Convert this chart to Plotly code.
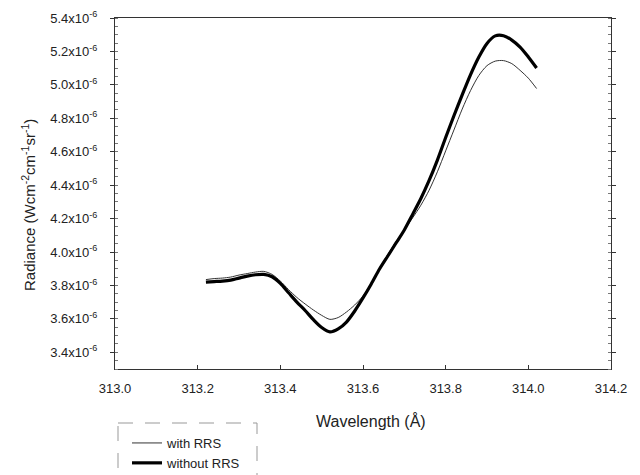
import plotly.graph_objects as go

# Wavelength grid (Å)
wavelength = [313.22, 313.24, 313.26, 313.28, 313.30, 313.32, 313.34, 313.36, 313.38, 313.40,
              313.42, 313.44, 313.46, 313.48, 313.50, 313.52, 313.54, 313.56, 313.58, 313.60,
              313.62, 313.64, 313.66, 313.68, 313.70, 313.72, 313.74, 313.76, 313.78, 313.80,
              313.82, 313.84, 313.86, 313.88, 313.90, 313.92, 313.94, 313.96, 313.98, 314.00,
              314.02]

# Radiance in units of 1e-6 W cm^-2 cm^-1 sr^-1
with_rrs = [3.835, 3.841, 3.844, 3.850, 3.862, 3.871, 3.880, 3.884, 3.866, 3.826,
            3.775, 3.728, 3.689, 3.653, 3.621, 3.597, 3.608, 3.641, 3.683, 3.737,
            3.814, 3.903, 3.985, 4.062, 4.132, 4.204, 4.280, 4.370, 4.480, 4.605,
            4.730, 4.855, 4.965, 5.055, 5.115, 5.142, 5.145, 5.127, 5.087, 5.040,
            4.978]

without_rrs = [3.820, 3.823, 3.826, 3.832, 3.844, 3.856, 3.864, 3.866, 3.852, 3.812,
               3.756, 3.700, 3.650, 3.595, 3.548, 3.522, 3.540, 3.581, 3.647, 3.725,
               3.809, 3.898, 3.976, 4.054, 4.132, 4.225, 4.320, 4.428, 4.550, 4.685,
               4.815, 4.940, 5.060, 5.165, 5.248, 5.293, 5.294, 5.268, 5.226, 5.167,
               5.101]

x_ticks = [313.0, 313.2, 313.4, 313.6, 313.8, 314.0, 314.2]
y_ticks = [3.4, 3.6, 3.8, 4.0, 4.2, 4.4, 4.6, 4.8, 5.0, 5.2, 5.4]
y_ticktext = [f"{v:.1f}x10<sup>-6</sup>" for v in y_ticks]

scale = 1e-6
FONT = "Liberation Sans, Arial, sans-serif"
INK = "#222222"

W, H = 640, 475
ML, MR, MT, MB = 115, 29, 18, 106
PW, PH = W - ML - MR, H - MT - MB


def px_x(px):
    return (px - ML) / PW


def px_y(py):
    return (H - MB - py) / PH


fig = go.Figure()
fig.add_trace(go.Scatter(
    x=wavelength, y=[v * scale for v in with_rrs], mode="lines",
    name="with RRS", line=dict(color="#333333", width=1, shape="spline", smoothing=0.8)))
fig.add_trace(go.Scatter(
    x=wavelength, y=[v * scale for v in without_rrs], mode="lines",
    name="without RRS", line=dict(color="#000000", width=3.2, shape="spline", smoothing=0.8)))

fig.update_layout(
    width=W, height=H,
    margin=dict(l=ML, r=MR, t=MT, b=MB, autoexpand=False),
    paper_bgcolor="white", plot_bgcolor="white",
    font=dict(family=FONT, color=INK, size=13),
    showlegend=True,
    legend=dict(
        x=px_x(127), y=px_y(428), xanchor="left", yanchor="top",
        bgcolor="rgba(0,0,0,0)", borderwidth=0,
        font=dict(family=FONT, size=13, color=INK),
        tracegroupgap=0, itemwidth=30,
    ),
    xaxis=dict(
        range=[313.0, 314.2], tickmode="array", tickvals=x_ticks,
        ticktext=[f"{v:.1f}" for v in x_ticks],
        showgrid=False, zeroline=False,
        showline=True, linecolor="#333333", linewidth=1, mirror=True,
        ticks="inside", ticklen=4, tickcolor="#333333",
        tickfont=dict(family=FONT, size=13, color=INK),
        ticklabelstandoff=7, automargin=False,
    ),
    yaxis=dict(
        range=[3.3 * scale, 5.4 * scale], tickmode="array",
        tickvals=[v * scale for v in y_ticks], ticktext=y_ticktext,
        showgrid=False, zeroline=False,
        showline=True, linecolor="#333333", linewidth=1, mirror="ticks",
        ticks="outside", ticklen=4, tickcolor="#333333",
        tickfont=dict(family=FONT, size=13, color=INK),
        ticklabelstandoff=10, automargin=False,
        minor=dict(tickmode="linear", tick0=3.4 * scale, dtick=0.05 * scale,
                   ticks="inside", ticklen=3, tickcolor="#777777", showgrid=False),
    ),
)

# Axis titles
fig.add_annotation(
    x=px_x(29), y=px_y(205), xref="paper", yref="paper",
    text="Radiance (Wcm<sup>-2</sup>cm<sup>-1</sup>sr<sup>-1</sup>)",
    textangle=-90, showarrow=False, xanchor="center", yanchor="middle",
    font=dict(family=FONT, size=15, color=INK))
fig.add_annotation(
    x=px_x(371), y=px_y(421), xref="paper", yref="paper",
    text="Wavelength (Å)", showarrow=False, xanchor="center", yanchor="middle",
    font=dict(family=FONT, size=16, color=INK))

# Dashed frame around the legend
fig.add_shape(
    type="rect", xref="paper", yref="paper",
    x0=px_x(118), x1=px_x(257), y0=px_y(423), y1=px_y(482),
    line=dict(color="#999999", width=1, dash="15px,12px"), fillcolor="rgba(0,0,0,0)")

fig.write_html("out.html")
